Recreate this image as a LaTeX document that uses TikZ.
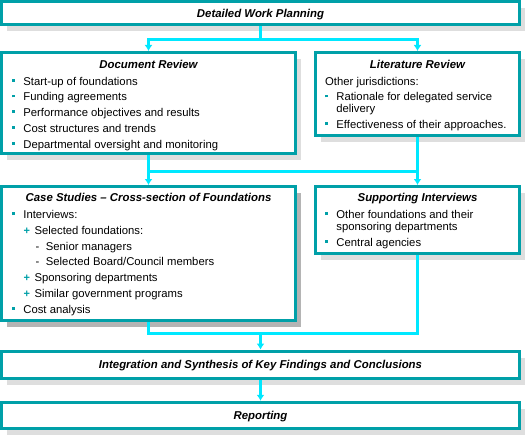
\documentclass[tikz,border=0pt]{standalone}
\usepackage{fontspec}
\setmainfont{Liberation Sans}
\usetikzlibrary{positioning,arrows.meta,calc,shadows}
\definecolor{boxteal}{RGB}{0,160,168}
\definecolor{linkcyan}{RGB}{0,232,255}
\definecolor{stipplegray}{RGB}{222,222,222}
\definecolor{solidgray}{RGB}{180,180,180}
\newcommand{\itembul}{\makebox[11.2pt][l]{\textcolor{boxteal}{\rule[3.4pt]{2.8pt}{2.8pt}}}}
\newcommand{\itemplus}{\hspace*{11.5pt}\makebox[10.8pt][l]{\textcolor{boxteal}{\fontsize{11}{11}\selectfont\bfseries +}}}
\newcommand{\itemdash}{\hspace*{23.5pt}\makebox[10.2pt][l]{-}}
\newcommand{\itemhang}{\hspace*{11.2pt}}
\newcommand{\nextitem}{\\[3.75pt]}
\tikzset{
    x=1pt,
    y=-1pt,
    panel/.style = {
        draw=boxteal,
        shape=rectangle,
        line width=3pt,
        fill=white,
        inner sep=0pt,
        drop shadow={shadow xshift=5.5pt, shadow yshift=-6.5pt, opacity=1, fill=#1}
    },
    panel/.default=stipplegray,
    heading/.style = {
        font=\fontsize{11.4}{12}\selectfont\bfseries\itshape,
        inner sep=0pt,
        text height=8.2pt,
        text depth=0pt
    },
    boxlist/.style = {
        font=\fontsize{11.3}{12}\selectfont,
        inner sep=0pt,
        anchor=base west
    },
    link/.style = {
        draw=linkcyan,
        line width=3pt
    },
    >={Latex[length=6pt,width=8pt]},
}

\begin{document}
\begin{tikzpicture}
            \useasboundingbox (0,0) rectangle (527,436);

            \node[panel, heading, minimum width=518pt, minimum height=23.3pt] (plan) at (260.5,13.15) {Detailed Work Planning};

            \node[panel, minimum width=294pt, minimum height=101pt] (doc_review) at (148.5,103) {};
            \node[panel, minimum width=204pt, minimum height=83pt] (lit_review) at (417.5,94) {};

            \node[panel=solidgray, minimum width=294pt, minimum height=134pt] (case_studies) at (148.5,253.5) {};
            \node[panel, minimum width=204pt, minimum height=67pt] (support_int) at (417.5,220) {};

            \node[panel, heading, minimum width=518pt, minimum height=27.4pt] (integration) at (260.5,364.8) {Integration and Synthesis of Key Findings and Conclusions};
            \node[panel, heading, minimum width=518pt, minimum height=26.6pt] (reporting) at (260.5,415.6) {Reporting};

            \node[heading, anchor=base] (doc_title) at ($(doc_review.north)+(0,17)$) {Document Review};
            \node[heading, anchor=base] (lit_title) at ($(lit_review.north)+(0,17)$) {Literature Review};
            \node[heading, anchor=base] (case_title) at ($(case_studies.north)+(0,16.5)$) {Case Studies \textendash{} Cross-section of Foundations};
            \node[heading, anchor=base] (support_title) at ($(support_int.north)+(0,16.5)$) {Supporting Interviews};

            \node[boxlist] (doc_list) at ($(doc_review.north west)+(12,34)$) {\begin{tabular}[t]{@{}l@{}}
                \itembul Start-up of foundations\nextitem
                \itembul Funding agreements\nextitem
                \itembul Performance objectives and results\nextitem
                \itembul Cost structures and trends\nextitem
                \itembul Departmental oversight and monitoring
            \end{tabular}};

            \node[boxlist] (lit_list) at ($(lit_review.north west)+(11,34)$) {\begin{tabular}[t]{@{}l@{}}
                Other jurisdictions:\nextitem
                \itembul Rationale for delegated service\\
                \itemhang delivery\nextitem
                \itembul Effectiveness of their approaches.
            \end{tabular}};

            \node[boxlist] (case_list) at ($(case_studies.north west)+(12,33.5)$) {\begin{tabular}[t]{@{}l@{}}
                \itembul Interviews:\nextitem
                \itemplus Selected foundations:\nextitem
                \itemdash Senior managers\nextitem
                \itemdash Selected Board/Council members\nextitem
                \itemplus Sponsoring departments\nextitem
                \itemplus Similar government programs\nextitem
                \itembul Cost analysis
            \end{tabular}};

            \node[boxlist] (support_list) at ($(support_int.north west)+(11,33.5)$) {\begin{tabular}[t]{@{}l@{}}
                \itembul Other foundations and their\\
                \itemhang sponsoring departments\nextitem
                \itembul Central agencies
            \end{tabular}};

            \coordinate (split_top) at (260.5,39.5);
            \coordinate (join_mid) at (417.5,171);
            \coordinate (join_low) at (260.5,333.5);

            \path[draw, link] (plan.south) -- (split_top);
            \path[draw, link, ->] (split_top) -| (doc_review.north);
            \path[draw, link, ->] (split_top) -| (lit_review.north);

            \path[draw, link, ->] (doc_review.south) -- (case_studies.north);
            \path[draw, link, ->] (lit_review.south) -- (support_int.north);
            \path[draw, link] (join_mid) -- (join_mid -| doc_review.south);

            \path[draw, link] (case_studies.south) |- (join_low);
            \path[draw, link] (support_int.south) |- (join_low);
            \path[draw, link, ->] (join_low) -- (integration.north);

            \path[draw, link, ->] (integration.south) -- (reporting.north);

\end{tikzpicture}
\end{document}
